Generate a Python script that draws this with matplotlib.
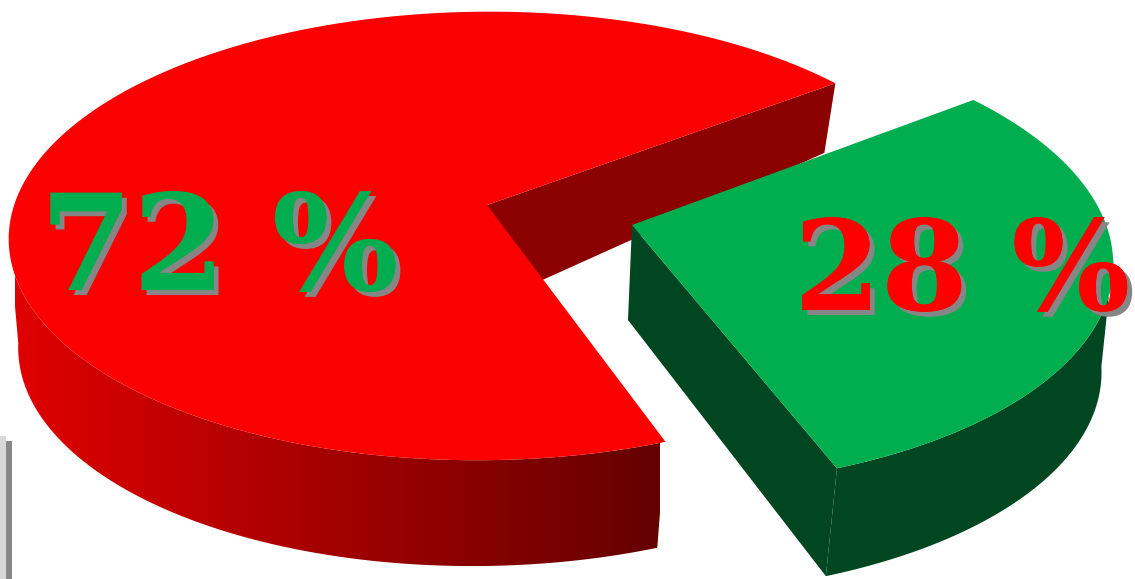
import numpy as np
import matplotlib
matplotlib.use('Agg')
import matplotlib.pyplot as plt
import matplotlib.patheffects as pe
from matplotlib.colors import LinearSegmentedColormap
from matplotlib.patches import Polygon, Rectangle

# printed labels, and the slice sizes as they are actually drawn in the picture
# (the gap measures about 107 degrees, a bit more than the 28 % it is labelled)
labels = ['72 %', '28 %']
drawn_shares = [70.3, 29.7]
start_angle = -37.0

RED = '#ff0000'
RED_FACE = '#fb0000'
GREEN = '#00ae4f'
DARK_GREEN = '#004620'
PERSPECTIVE = 0.138
SIDE_TILT = 0.006


def project(t, cx, cy, a, b, shear=0.0):
    """Map angles on the unit disc to pixels, with the near side drawn larger."""
    u, v = np.cos(t), np.sin(t)
    s = 1 / (1 - PERSPECTIVE * v + SIDE_TILT * u)
    return np.column_stack([cx + (a * u + shear * v) * s, cy + b * v * s])


fig = plt.figure(figsize=(11.35, 5.79), dpi=100)
ax = fig.add_axes([0, 0, 1, 1])
ax.set_xlim(0, 1135)
ax.set_ylim(579, 0)
ax.axis('off')

gap = np.deg2rad(drawn_shares[1] * 3.6)
t0 = np.deg2rad(start_angle)
t1 = t0 + gap

# stray frame line at the lower left
ax.add_patch(Rectangle((0, 436), 6, 143, color='#d8d8d8', lw=0))
ax.add_patch(Rectangle((6, 441), 6, 138, color='#888888', lw=0))

# red slice: top face, front rim and the floor of the inner wall
red_top = dict(cx=487, cy=205, a=470, b=220, shear=-6)
red_rim = dict(cx=487, cy=312, a=460, b=219, shear=-10)
red_wall = dict(cx=487, cy=305, a=455, b=275, shear=-6)

p_top = project(np.array([t0]), **red_top)[0]
p_bot = project(np.array([t0]), **red_wall)[0]
ax.add_patch(Polygon([(red_top['cx'], red_top['cy']), p_top, p_bot,
                      (red_wall['cx'], red_wall['cy'])], color='#8b0000', lw=0))

arc = np.linspace(t1, np.deg2rad(172), 200)
side = Polygon(np.vstack([project(arc, **red_top), project(arc[::-1], **red_rim)]),
               transform=ax.transData, fc='none', lw=0)
ax.add_patch(side)
red_ramp = LinearSegmentedColormap.from_list('red_ramp', ['#e00000', '#640000'])
im = ax.imshow(np.linspace(0, 1, 256).reshape(1, -1), cmap=red_ramp, extent=(15, 660, 579, 0),
               aspect='auto', interpolation='bilinear')
im.set_clip_path(side)
ax.set_xlim(0, 1135)
ax.set_ylim(579, 0)

arc = np.linspace(t1, t0 + 2 * np.pi, 400)
ax.add_patch(Polygon(np.vstack([[(red_top['cx'], red_top['cy'])], project(arc, **red_top)]),
                     color=RED_FACE, lw=0))

# green slice
green_top = dict(cx=632, cy=225, a=477, b=226, shear=16)
green_rim = dict(cx=628, cy=335, a=470, b=224, shear=12)
green_vertex_bottom = (628, 320)

arc = np.linspace(np.deg2rad(8), t1, 200)
ax.add_patch(Polygon(np.vstack([project(arc, **green_top), project(arc[::-1], **green_rim)]),
                     color=DARK_GREEN, lw=0))
c_top = project(np.array([t1]), **green_top)[0]
c_bot = project(np.array([t1]), **green_rim)[0]
ax.add_patch(Polygon([(green_top['cx'], green_top['cy']), c_top, c_bot, green_vertex_bottom],
                     color=DARK_GREEN, lw=0))

arc = np.linspace(t0, t1, 200)
ax.add_patch(Polygon(np.vstack([[(green_top['cx'], green_top['cy'])], project(arc, **green_top)]),
                     color=GREEN, lw=0))

shadow = [pe.withSimplePatchShadow(offset=(3.6, -3.6), shadow_rgbFace='#868686', alpha=1.0), pe.Normal()]
ax.text(40, 290, labels[0], color=GREEN, family='DejaVu Serif', weight='bold', fontsize=96,
        ha='left', va='baseline', path_effects=shadow)
ax.text(794, 310, labels[1], color=RED, family='DejaVu Serif', weight='bold', fontsize=90,
        ha='left', va='baseline', path_effects=shadow)

fig.savefig('out.png', dpi=100)
